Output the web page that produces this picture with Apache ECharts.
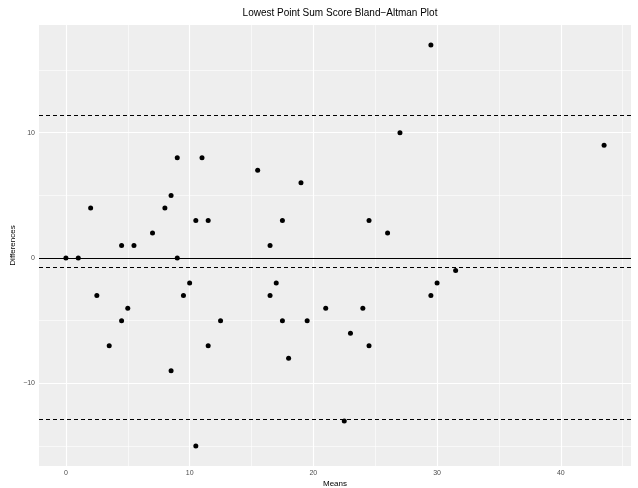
<!DOCTYPE html>
<html>
<head>
<meta charset="utf-8">
<title>Bland-Altman</title>
<script src="https://cdn.jsdelivr.net/npm/echarts@6/dist/echarts.min.js"></script>
<style>
  html, body { margin: 0; padding: 0; background: #fff; }
  #main { width: 638px; height: 488px; }
</style>
</head>
<body>
<div id="main"></div>
<script>
// values
const means = [0, 1, 2, 2.5, 3.5, 4.5, 4.5, 5, 5.5, 7, 8, 8.5, 8.5, 9, 9, 9.5, 10, 10.5, 10.5, 11, 11.5, 11.5, 12.5,
  15.5, 16.5, 16.5, 17, 17.5, 17.5, 18, 19, 19.5, 21, 22.5, 23, 24, 24.5, 24.5, 26, 27, 29.5, 29.5, 30, 31.5, 43.5];
const diffs = [0, 0, 4, -3, -7, 1, -5, -4, 1, 2, 4, 5, -9, 8, 0, -3, -2, 3, -15, 8, 3, -7, -5,
  7, 1, -3, -2, 3, -5, -8, 6, -5, -4, -13, -6, -4, 3, -7, 2, 10, 17, -3, -2, -1, 9];

const xTicks = [0, 10, 20, 30, 40];
const xMinor = [5, 15, 25, 35, 45];
const yTicks = [-10, 0, 10];
const yMinor = [-15, -5, 5, 15];

const meanDiff = -0.75;
const upperLimit = 11.37;
const lowerLimit = -12.9;

const font = 'Liberation Sans, Arial, sans-serif';

// gridlines (major white, minor thinner)
let gridLines = [];
xMinor.forEach(v => gridLines.push({ xAxis: v, lineStyle: { color: '#fff', width: 0.6, type: 'solid' } }));
yMinor.forEach(v => gridLines.push({ yAxis: v, lineStyle: { color: '#fff', width: 0.6, type: 'solid' } }));
xTicks.forEach(v => gridLines.push({ xAxis: v, lineStyle: { color: '#fff', width: 1.2, type: 'solid' } }));
yTicks.forEach(v => gridLines.push({ yAxis: v, lineStyle: { color: '#fff', width: 1.2, type: 'solid' } }));

const refLines = [
  { yAxis: 0, lineStyle: { color: '#000', width: 1, type: 'solid' } },
  { yAxis: meanDiff, lineStyle: { color: '#000', width: 1, type: [4, 3] } },
  { yAxis: upperLimit, lineStyle: { color: '#000', width: 1, type: [4, 3] } },
  { yAxis: lowerLimit, lineStyle: { color: '#000', width: 1, type: [4, 3] } }
];

const points = means.map((m, i) => [m, diffs[i]]);

let myChart = echarts.init(document.getElementById('main'));

let options = {
  animation: false,
  backgroundColor: '#fff',
  title: {
    text: 'Lowest Point Sum Score Bland\u2212Altman Plot',
    left: 335, top: 3, textAlign: 'center',
    textStyle: { fontFamily: font, fontSize: 10, fontWeight: 'normal', color: '#000' }
  },
  grid: {
    left: 39, right: 7, top: 25, bottom: 22,
    outerBoundsMode: 'none', containLabel: false,
    show: true, backgroundColor: '#eeeeee', borderWidth: 0
  },
  xAxis: {
    type: 'value', min: -2.175, max: 45.675,
    name: 'Means', nameLocation: 'middle', nameGap: 14, nameMoveOverlap: false,
    nameTextStyle: { fontFamily: font, fontSize: 8, color: '#000' },
    axisLine: { show: false },
    axisTick: { show: true, length: 3, customValues: xTicks, lineStyle: { color: '#333' } },
    axisLabel: { customValues: xTicks, margin: 4, fontFamily: font, fontSize: 7, color: '#4d4d4d' },
    splitLine: { show: false }
  },
  yAxis: {
    type: 'value', min: -16.6, max: 18.6,
    name: 'Differences', nameLocation: 'middle', nameGap: 22, nameRotate: 90, nameMoveOverlap: false,
    nameTextStyle: { fontFamily: font, fontSize: 8, color: '#000' },
    axisLine: { show: false },
    axisTick: { show: true, length: 3, customValues: yTicks, lineStyle: { color: '#333' } },
    axisLabel: {
      customValues: yTicks, margin: 4, fontFamily: font, fontSize: 7, color: '#4d4d4d',
      formatter: v => (v < 0 ? '\u2212' + Math.abs(v) : String(v))
    },
    splitLine: { show: false }
  },
  series: [
    {
      type: 'line', data: [], z: 1, silent: true,
      markLine: { z: 1, silent: true, symbol: 'none', label: { show: false }, animation: false, data: gridLines }
    },
    {
      type: 'line', data: [], z: 2, silent: true,
      markLine: { z: 2, silent: true, symbol: 'none', label: { show: false }, animation: false, data: refLines }
    },
    {
      type: 'scatter', z: 10, data: points, symbolSize: 5,
      itemStyle: { color: '#000', opacity: 1 }
    }
  ]
};

myChart.setOption(options);
</script>
</body>
</html>
